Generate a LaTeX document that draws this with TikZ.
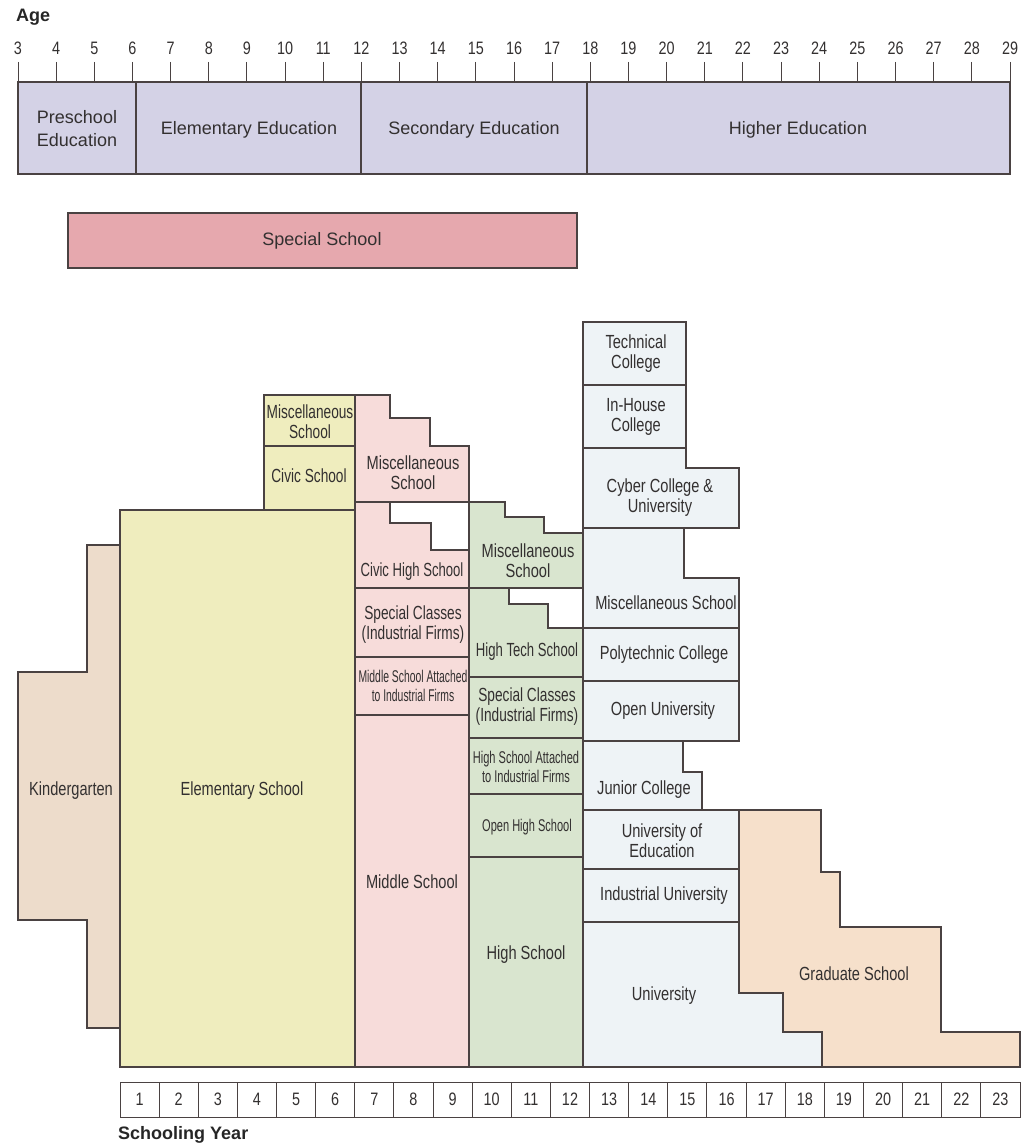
\documentclass[tikz,border=0pt]{standalone}
\usepackage{fontspec}
\setmainfont{Liberation Sans}
\newfontfamily\fA[FakeStretch=0.77]{Liberation Sans}
\newfontfamily\fB[FakeStretch=0.72]{Liberation Sans}
\newfontfamily\fC[FakeStretch=0.69]{Liberation Sans}
\newfontfamily\fD[FakeStretch=0.61]{Liberation Sans}
\newfontfamily\fE[FakeStretch=0.65]{Liberation Sans}
\newfontfamily\fN[FakeStretch=0.80]{Liberation Sans}
\newfontfamily\fH[FakeStretch=1.0]{Liberation Sans}
\definecolor{linec}{HTML}{4A4242}
\definecolor{txt}{HTML}{333030}
\definecolor{bandc}{HTML}{D4D2E6}
\definecolor{specc}{HTML}{E6A8AE}
\definecolor{kinc}{HTML}{EDDCCB}
\definecolor{elec}{HTML}{EFEDBE}
\definecolor{midc}{HTML}{F7DCDA}
\definecolor{higc}{HTML}{D9E5CF}
\definecolor{unic}{HTML}{EEF3F6}
\definecolor{grac}{HTML}{F6E0CB}
\begin{document}
\begin{tikzpicture}[x=1pt,y=-1pt,
  ln/.style={draw=linec, line width=1.2pt, line join=miter},
  lbl/.style={font=\fA\fontsize{19}{20}\selectfont, text=txt, align=center, inner sep=0pt},
  lblb/.style={font=\fB\fontsize{19}{20}\selectfont, text=txt, align=center, inner sep=0pt},
  lblcv/.style={font=\fC\fontsize{19}{20}\selectfont, text=txt, align=center, inner sep=0pt},
  lbld/.style={font=\fD\fontsize{17}{19}\selectfont, text=txt, align=center, inner sep=0pt},
  lble/.style={font=\fE\fontsize{17}{19}\selectfont, text=txt, align=center, inner sep=0pt},
  big/.style={font=\fontsize{18}{23}\selectfont, text=txt, align=center, inner sep=0pt},
  numl/.style={font=\fN\fontsize{18}{20}\selectfont, text=txt, inner sep=0pt},
  head/.style={font=\fH\bfseries\fontsize{18}{20}\selectfont, text=black!85, inner sep=0pt, anchor=west}]
\useasboundingbox (0,0) rectangle (1027,1148);

% ---------- Age axis ----------
\node[head] (agehead) at (16,17) {Age};
\foreach \a in {3,...,29}{
  \draw[linec, line width=1pt] ({18+38.154*(\a-3)},62) -- ({18+38.154*(\a-3)},82);
  \node[numl] (age\a) at ({18+38.154*(\a-3)},48) {\a};
}
\path[ln, fill=bandc] (18,82) rectangle (1010,174);
\draw[ln] (136,82) -- (136,174);
\draw[ln] (361,82) -- (361,174);
\draw[ln] (587,82) -- (587,174);
\node[big] (pre) at (77,129) {Preschool\\Education};
\node[big] (elemed) at (249,130) {Elementary Education};
\node[big] (seced) at (474,130) {Secondary Education};
\node[big] (hied) at (798,130) {Higher Education};

% ---------- Special school ----------
\path[ln, fill=specc] (68,213) rectangle (577,268);
\node[big] (spec) at (322,241) {Special School};

% ---------- Kindergarten ----------
\path[ln, fill=kinc] (87,545) -- (120,545) -- (120,1028) -- (87,1028) -- (87,920) -- (18,920) -- (18,672) -- (87,672) -- cycle;
\node[lbl] (kin) at (71,791) {Kindergarten};

% ---------- Elementary ----------
\path[ln, fill=elec] (120,510) rectangle (355,1067);
\node[lbl] (elem) at (242,791) {Elementary School};
\path[ln, fill=elec] (264,395) rectangle (355,510);
\draw[ln] (264,446) -- (355,446);
\node[lblb] (ymisc) at (310,422) {Miscellaneous\\School};
\node[lblb] (ycivic) at (309,476) {Civic School};

% ---------- Middle column ----------
\path[ln, fill=midc] (355,395) -- (390,395) -- (390,418) -- (430,418) -- (430,446) -- (469,446) -- (469,502) -- (355,502) -- cycle;
\node[lbl] (pmisc) at (413,473) {Miscellaneous\\School};
\path[ln, fill=midc] (355,502) -- (390,502) -- (390,523) -- (431,523) -- (431,550) -- (469,550) -- (469,588) -- (355,588) -- cycle;
\node[lblcv] (pcivic) at (412,572) {Civic High School};
\path[ln, fill=midc] (355,588) rectangle (469,657);
\node[lblb] (pspec) at (413,625) {Special Classes\\(Industrial Firms)};
\path[ln, fill=midc] (355,657) rectangle (469,715);
\node[lbld] (pmsa) at (413,686) {Middle School Attached\\to Industrial Firms};
\path[ln, fill=midc] (355,715) rectangle (469,1067);
\node[lbl] (pmid) at (412,882) {Middle School};

% ---------- High column ----------
\path[ln, fill=higc] (469,502) -- (505,502) -- (505,517) -- (544,517) -- (544,533) -- (583,533) -- (583,588) -- (469,588) -- cycle;
\node[lbl] (gmisc) at (528,561) {Miscellaneous\\School};
\path[ln, fill=higc] (469,588) -- (509,588) -- (509,604) -- (548,604) -- (548,628) -- (583,628) -- (583,677) -- (469,677) -- cycle;
\node[lblcv] (gtech) at (527,652) {High Tech School};
\path[ln, fill=higc] (469,677) rectangle (583,738);
\node[lblb] (gspec) at (527,707) {Special Classes\\(Industrial Firms)};
\path[ln, fill=higc] (469,738) rectangle (583,794);
\node[lble] (ghsa) at (526,767) {High School Attached\\to Industrial Firms};
\path[ln, fill=higc] (469,794) rectangle (583,857);
\node[lble] (gopen) at (527,827) {Open High School};
\path[ln, fill=higc] (469,857) rectangle (583,1067);
\node[lbl] (ghigh) at (526,955) {High School};

% ---------- University column ----------
\path[ln, fill=unic] (583,322) rectangle (686,385);
\node[lbl] (utech) at (636,354) {Technical\\College};
\path[ln, fill=unic] (583,385) rectangle (686,448);
\node[lbl] (uhouse) at (636,417) {In-House\\College};
\path[ln, fill=unic] (583,448) -- (686,448) -- (686,468) -- (739,468) -- (739,528) -- (583,528) -- cycle;
\node[lbl] (ucyber) at (660,498) {Cyber College \&\\University};
\path[ln, fill=unic] (583,528) -- (684,528) -- (684,578) -- (739,578) -- (739,628) -- (583,628) -- cycle;
\node[lbl] (umisc) at (666,603) {Miscellaneous School};
\path[ln, fill=unic] (583,628) rectangle (739,681);
\node[lbl] (upoly) at (664,655) {Polytechnic College};
\path[ln, fill=unic] (583,681) rectangle (739,741);
\node[lbl] (uopen) at (663,711) {Open University};
\path[ln, fill=unic] (583,741) -- (683,741) -- (683,772) -- (702,772) -- (702,810) -- (583,810) -- cycle;
\node[lbl] (ujun) at (644,790) {Junior College};
\path[ln, fill=unic] (583,810) rectangle (739,869);
\node[lbl] (uedu) at (662,841) {University of\\Education};
\path[ln, fill=unic] (583,869) rectangle (739,922);
\node[lbl] (uind) at (664,896) {Industrial University};
\path[ln, fill=unic] (583,922) -- (739,922) -- (739,993) -- (783,993) -- (783,1032) -- (822,1032) -- (822,1067) -- (583,1067) -- cycle;
\node[lbl] (uuni) at (664,996) {University};

% ---------- Graduate ----------
\path[ln, fill=grac] (739,810) -- (821,810) -- (821,872) -- (840,872) -- (840,927) -- (941,927) -- (941,1032) -- (1020,1032) -- (1020,1067) -- (822,1067) -- (822,1032) -- (783,1032) -- (783,993) -- (739,993) -- cycle;
\node[lbl] (grad) at (854,974) {Graduate School};

% ---------- Schooling years ----------
\foreach \i in {1,...,23}{
  \path[ln, line width=1pt, fill=white] ({120+39.13*(\i-1)},1082) rectangle ({120+39.13*\i},1117);
  \node[numl] (yr\i) at ({120+39.13*(\i-0.5)},1099.5) {\i};
}
\node[head] (yrhead) at (118,1135) {Schooling Year};
\end{tikzpicture}
\end{document}
